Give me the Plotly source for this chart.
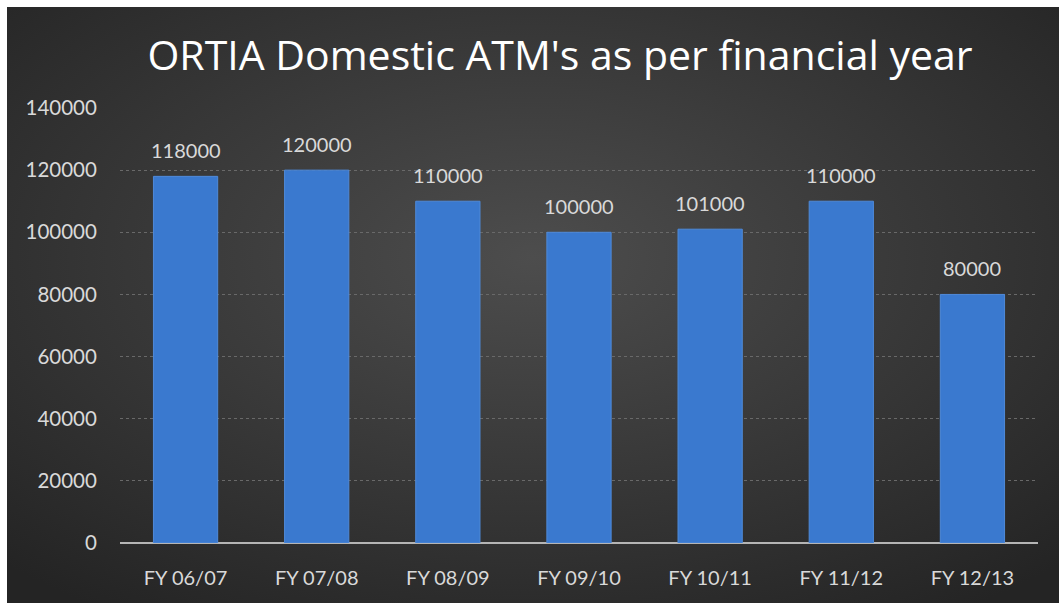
import base64
import plotly.graph_objects as go

categories = ["FY 06/07", "FY 07/08", "FY 08/09", "FY 09/10", "FY 10/11", "FY 11/12", "FY 12/13"]
atm_counts = [118000, 120000, 110000, 100000, 101000, 110000, 80000]
y_ticks = [0, 20000, 40000, 60000, 80000, 100000, 120000, 140000]

W, H = 1061, 603
ML, MR, MT, MB = 120, 23, 108, 60
PW, PH = W - ML - MR, H - MT - MB

svg = (
    '<svg xmlns="http://www.w3.org/2000/svg" width="100" height="100" viewBox="0 0 100 100" preserveAspectRatio="none">'
    '<defs><radialGradient id="g" cx="50%" cy="42%" r="72%">'
    '<stop offset="0%" stop-color="#4d4d4d"/><stop offset="100%" stop-color="#242424"/>'
    '</radialGradient></defs><rect width="100" height="100" fill="url(#g)"/></svg>'
)
bg_uri = "data:image/svg+xml;base64," + base64.b64encode(svg.encode()).decode()

def px_x(p):
    return (p - ML) / PW

def px_y(p):
    return (H - MB - p) / PH

FONT = "Lato, Open Sans, sans-serif"

fig = go.Figure()
fig.add_trace(go.Bar(
    x=categories, y=atm_counts,
    width=0.49,
    marker=dict(color="#3a79cf", line=dict(color="#4f8ad9", width=1)),
    hoverinfo="x+y",
))

for c, v in zip(categories, atm_counts):
    fig.add_annotation(x=c, y=v, text=str(v), showarrow=False, yanchor="bottom",
                       yshift=12, font=dict(family=FONT, size=20, color="#d9d9d9"))

fig.add_layout_image(dict(
    source=bg_uri, xref="paper", yref="paper",
    x=px_x(7), y=px_y(7), sizex=(1059 - 7) / PW, sizey=(H - 7) / PH,
    xanchor="left", yanchor="top", sizing="stretch", layer="below",
))

fig.update_layout(
    width=W, height=H,
    margin=dict(l=ML, r=MR, t=MT, b=MB),
    paper_bgcolor="white", plot_bgcolor="rgba(0,0,0,0)",
    showlegend=False,
    title=dict(text="ORTIA Domestic ATM's as per financial year", x=560 / W, xanchor="center",
               y=1 - 56 / H, yanchor="middle",
               font=dict(family="Open Sans, Lato, sans-serif", size=41, color="white")),
    xaxis=dict(showgrid=False, showline=False, ticks="outside", ticklen=17, tickcolor="rgba(0,0,0,0)",
               tickfont=dict(family=FONT, size=20, color="#d9d9d9")),
    yaxis=dict(range=[0, 140000], tickvals=y_ticks, tickformat="d", showgrid=True,
               gridcolor="#696969", griddash="dot", gridwidth=1,
               zeroline=True, zerolinecolor="#b5b5b5", zerolinewidth=2,
               ticks="outside", ticklen=18, tickcolor="rgba(0,0,0,0)",
               tickfont=dict(family=FONT, size=20.5, color="#d9d9d9")),
    bargap=0.51,
)

fig.write_html("out.html")
